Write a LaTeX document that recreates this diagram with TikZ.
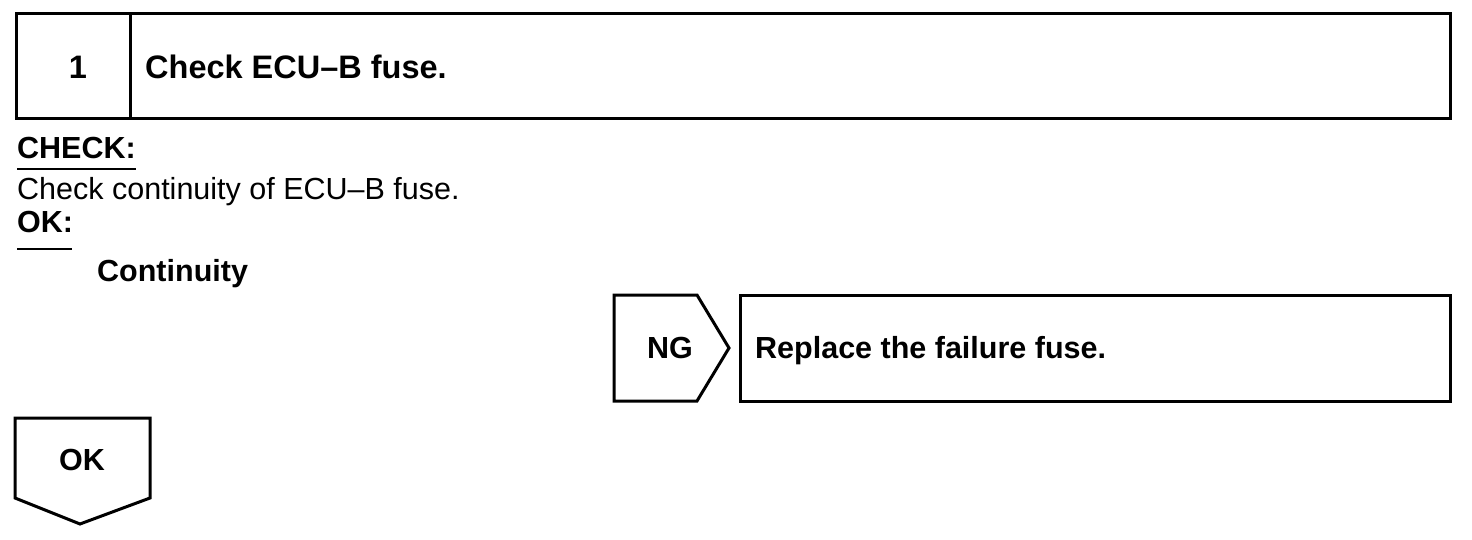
\documentclass[tikz,border=0pt]{standalone}
\usepackage{fontspec}
\setmainfont{Liberation Sans}
\begin{document}
\begin{tikzpicture}[x=1pt,y=-1pt,
  frame/.style={draw=black,line width=3pt},
  titletxt/.style={font=\fontsize{32.5}{36}\selectfont\bfseries,anchor=base west,inner sep=0pt},
  boldtxt/.style={font=\fontsize{30.5}{34}\selectfont\bfseries,anchor=base west,inner sep=0pt},
  normtxt/.style={font=\fontsize{30.5}{34}\selectfont,anchor=base west,inner sep=0pt}]
\useasboundingbox (0,0) rectangle (1472,540);
% step header
\draw[frame] (16,14) rectangle (1450,119);
\draw[frame] (130,14) -- (130,119);
\node[titletxt,anchor=base] (num) at (78,79) {1};
\node[titletxt] (title) at (145,79) {Check ECU–B fuse.};
% check text
\node[boldtxt] (chk) at (17,159) {CHECK:};
\draw[line width=2pt] (17,169) -- (136,169);
\node[normtxt] (chktxt) at (17,200) {Check continuity of ECU–B fuse.};
\node[boldtxt] (ok) at (17,233) {OK:};
\draw[line width=2pt] (17,249) -- (72,249);
\node[boldtxt] (cont) at (97,281) {Continuity};
% NG arrow
\draw[frame,line join=miter] (614,295) -- (697,295) -- (729,348) -- (697,401) -- (614,401) -- cycle;
\node[boldtxt,anchor=base] (ng) at (670,358) {NG};
\draw[frame] (740,295) rectangle (1450,401);
\node[boldtxt] (repl) at (755,358) {Replace the failure fuse.};
% OK arrow
\draw[frame,line join=miter] (15,418) -- (150,418) -- (150,498) -- (80,524) -- (15,498) -- cycle;
\node[boldtxt,anchor=base] (okbox) at (82,470) {OK};
\end{tikzpicture}
\end{document}
